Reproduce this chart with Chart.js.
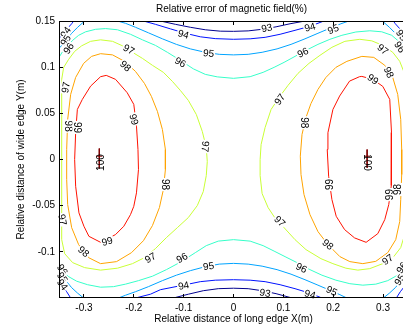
<!DOCTYPE html>
<html>
<head>
<meta charset="utf-8">
<script src="https://cdn.jsdelivr.net/npm/chart.js@4.4.1/dist/chart.umd.min.js"></script>
<style>
html,body{margin:0;padding:0;background:#fff;overflow:hidden;}
#wrap{position:relative;width:416px;height:328px;}
</style>
</head>
<body>
<div id="wrap"><canvas id="c"></canvas></div>
<script>
// axes
const xTickVals = [-0.3,-0.2,-0.1,0,0.1,0.2,0.3];
const xTickLabels = ['-0.3','-0.2','-0.1','0','0.1','0.2','0.3'];
const yTickVals = [-0.1,-0.05,0,0.05,0.1,0.15];
const yTickLabels = ['-0.1','-0.05','0','0.05','0.1','0.15'];
const titleText = 'Relative error of magnetic field(%)';
const xTitle = 'Relative distance of long edge X(m)';
const yTitle = 'Relative distance of wide edge Y(m)';

// contour lines, [x, y] in metres
const lv93Top = [[-0.1466,0.15],[-0.1166,0.1464],[-0.0866,0.1432],[-0.0566,0.1405],[-0.0266,0.139],[0,0.1388],[0.0294,0.1393],[0.0574,0.141],[0.0854,0.1437],[0.1134,0.147],[0.1434,0.15]];
const lv93Bot = [[-0.1206,-0.15],[-0.0906,-0.1459],[-0.0606,-0.1421],[-0.0306,-0.1399],[0,-0.1394],[0.0294,-0.1399],[0.0574,-0.1421],[0.0854,-0.1453],[0.1174,-0.15]];

const lv94Top = [[-0.1806,0.15],[-0.1566,0.1464],[-0.1266,0.1415],[-0.0966,0.1367],[-0.0666,0.1329],[-0.0366,0.1309],[0,0.1302],[0.0334,0.1307],[0.0634,0.1323],[0.0934,0.1356],[0.1234,0.1399],[0.1534,0.1443],[0.1814,0.15]];
const lv94Bot = [[-0.1966,-0.15],[-0.1666,-0.1459],[-0.1466,-0.141],[-0.1006,-0.1361],[-0.0666,-0.1323],[-0.0366,-0.1307],[0,-0.1302],[0.0334,-0.1307],[0.0634,-0.1323],[0.0934,-0.1356],[0.1234,-0.1399],[0.1534,-0.1448],[0.1774,-0.15]];
const lv94TL = [[-0.35,0.1312],[-0.3426,0.1356],[-0.3346,0.141],[-0.3246,0.147],[-0.3206,0.15]];
const lv94TR = [[0.35,0.1312],[0.3426,0.1356],[0.3346,0.141],[0.3246,0.147],[0.3206,0.15]];
const lv94BL = [[-0.35,-0.1334],[-0.3426,-0.1377],[-0.3346,-0.1432],[-0.3266,-0.15]];
const lv94BR = [[0.35,-0.1334],[0.3426,-0.1377],[0.3346,-0.1432],[0.3266,-0.15]];

const lv95Top = [[-0.2326,0.15],[-0.2166,0.1475],[-0.1966,0.1432],[-0.1706,0.1372],[-0.1426,0.1307],[-0.1146,0.1247],[-0.0866,0.1198],[-0.0566,0.1161],[-0.0286,0.1139],[0,0.1133],[0.0294,0.1139],[0.0574,0.1161],[0.0874,0.1198],[0.1154,0.1247],[0.1434,0.1307],[0.1694,0.1367],[0.1954,0.1426],[0.2154,0.147],[0.2314,0.15]];
const lv95Bot = [[-0.2306,-0.15],[-0.2166,-0.147],[-0.1966,-0.1432],[-0.1706,-0.1377],[-0.1426,-0.1312],[-0.1146,-0.1253],[-0.0866,-0.1204],[-0.0566,-0.1161],[-0.0286,-0.1133],[0,-0.1125],[0.0294,-0.1133],[0.0574,-0.1155],[0.0874,-0.1193],[0.1154,-0.1242],[0.1434,-0.1302],[0.1694,-0.1361],[0.1954,-0.1421],[0.2134,-0.1464],[0.2274,-0.15]];
const lv95TL = [[-0.35,0.1204],[-0.3426,0.1247],[-0.3346,0.1302],[-0.3246,0.1367],[-0.3126,0.1432],[-0.2986,0.15]];
const lv95TR = [[0.35,0.1204],[0.3426,0.1247],[0.3346,0.1302],[0.3246,0.1367],[0.3126,0.1432],[0.2986,0.15]];
const lv95BL = [[-0.35,-0.1226],[-0.3426,-0.1269],[-0.3346,-0.1323],[-0.3246,-0.1388],[-0.3126,-0.1448],[-0.3006,-0.15]];
const lv95BR = [[0.35,-0.1226],[0.3426,-0.1269],[0.3346,-0.1323],[0.3246,-0.1388],[0.3126,-0.1448],[0.3006,-0.15]];

const lv96Top = [[-0.35,0.1106],[-0.3426,0.1171],[-0.3326,0.1231],[-0.3226,0.1291],[-0.3106,0.1345],[-0.2966,0.1383],[-0.2766,0.141],[-0.2566,0.1418],[-0.2326,0.1405],[-0.2066,0.1356],[-0.1826,0.1296],[-0.1566,0.1236],[-0.1326,0.1161],[-0.1066,0.1074],[-0.0806,0.0982],[-0.0566,0.0922],[-0.0326,0.0895],[0,0.0879],[0.0334,0.0897],[0.0594,0.0944],[0.0814,0.0998],[0.1014,0.1052],[0.1234,0.1117],[0.1454,0.1182],[0.1694,0.1247],[0.1934,0.1302],[0.2174,0.1345],[0.2454,0.1381],[0.2734,0.1394],[0.2974,0.1383],[0.3174,0.1345],[0.3314,0.128],[0.3414,0.1204],[0.35,0.1128]];
const lv96Bot = [[-0.35,-0.115],[-0.3426,-0.1215],[-0.3306,-0.1269],[-0.3146,-0.1318],[-0.2926,-0.1356],[-0.2666,-0.1383],[-0.2406,-0.1377],[-0.2166,-0.135],[-0.1906,-0.1312],[-0.1626,-0.1264],[-0.1346,-0.1193],[-0.1046,-0.1106],[-0.0766,-0.1009],[-0.0546,-0.0933],[-0.0306,-0.0884],[0,-0.0868],[0.0334,-0.0884],[0.0594,-0.0933],[0.0814,-0.0992],[0.1034,-0.1052],[0.1274,-0.1117],[0.1534,-0.1193],[0.1774,-0.1253],[0.2054,-0.1307],[0.2334,-0.1345],[0.2594,-0.1361],[0.2854,-0.135],[0.3094,-0.1312],[0.3274,-0.1258],[0.3414,-0.1193],[0.35,-0.1117]];

const lv97L = [[-0.3446,0.0868],[-0.3406,0.0998],[-0.3306,0.1085],[-0.3186,0.1171],[-0.3046,0.1231],[-0.2866,0.128],[-0.2666,0.1296],[-0.2426,0.128],[-0.2226,0.1231],[-0.2026,0.1161],[-0.1826,0.1095],[-0.1626,0.102],[-0.1406,0.0944],[-0.1226,0.0846],[-0.1066,0.0748],[-0.0906,0.064],[-0.0746,0.0488],[-0.0626,0.0304],[-0.0546,0.013],[-0.0526,-0.0022],[-0.0546,-0.0174],[-0.0606,-0.0347],[-0.0726,-0.0499],[-0.0906,-0.0629],[-0.1126,-0.0738],[-0.1346,-0.0846],[-0.1566,-0.0965],[-0.1786,-0.1063],[-0.2026,-0.1128],[-0.2326,-0.1177],[-0.2666,-0.1198],[-0.2986,-0.1171],[-0.3226,-0.1117],[-0.3386,-0.102],[-0.3446,-0.0868],[-0.3446,-0.0434],[-0.3446,0],[-0.3446,0.0434],[-0.3446,0.0868]];
const lv97R = [[0.2534,0.1302],[0.2774,0.1285],[0.2994,0.1236],[0.3194,0.1161],[0.3334,0.1063],[0.3414,0.0954],[0.3444,0.0813],[0.3454,0.0434],[0.3454,0],[0.3454,-0.0434],[0.3434,-0.0813],[0.3354,-0.0954],[0.3214,-0.1052],[0.2994,-0.1128],[0.2734,-0.1182],[0.2494,-0.1198],[0.2254,-0.1177],[0.1994,-0.1128],[0.1754,-0.1074],[0.1454,-0.0976],[0.1234,-0.0868],[0.1014,-0.0738],[0.0854,-0.0651],[0.0694,-0.0521],[0.0574,-0.0369],[0.0534,-0.0174],[0.0534,0],[0.0554,0.0163],[0.0634,0.0347],[0.0754,0.0542],[0.0914,0.0672],[0.1094,0.0803],[0.1294,0.0933],[0.1514,0.1041],[0.1734,0.1128],[0.1974,0.1215],[0.2234,0.128],[0.2534,0.1302]];

const lv98L = [[-0.2666,0.1146],[-0.2426,0.1133],[-0.2186,0.1063],[-0.1966,0.0954],[-0.1786,0.0824],[-0.1646,0.0683],[-0.1526,0.0521],[-0.1426,0.0325],[-0.1366,0.0108],[-0.1366,-0.0108],[-0.1406,-0.0325],[-0.1486,-0.0521],[-0.1626,-0.0716],[-0.1806,-0.0879],[-0.2046,-0.1009],[-0.2346,-0.1106],[-0.2666,-0.1128],[-0.2906,-0.1063],[-0.3106,-0.0922],[-0.3246,-0.0738],[-0.3326,-0.0488],[-0.3346,-0.0217],[-0.3346,0.0108],[-0.3326,0.0434],[-0.3266,0.0705],[-0.3166,0.0889],[-0.3006,0.1041],[-0.2846,0.1117],[-0.2666,0.1146]];
const lv98R = [[0.2574,0.1117],[0.2814,0.1106],[0.3034,0.102],[0.3194,0.0889],[0.3294,0.0705],[0.3354,0.0434],[0.3374,0.0108],[0.3374,-0.0163],[0.3354,-0.0434],[0.3334,-0.0672],[0.3254,-0.0868],[0.3094,-0.1009],[0.2854,-0.1103],[0.2594,-0.1128],[0.2334,-0.1106],[0.2134,-0.1052],[0.1894,-0.0922],[0.1694,-0.0781],[0.1534,-0.0597],[0.1414,-0.038],[0.1354,-0.0163],[0.134,0.0036],[0.1374,0.0271],[0.1454,0.0456],[0.1554,0.0607],[0.1694,0.0759],[0.1854,0.0889],[0.2054,0.0998],[0.2274,0.1063],[0.2574,0.1117]];

const lv99L = [[-0.2552,0.0911],[-0.2366,0.0868],[-0.2132,0.0723],[-0.2,0.0597],[-0.1946,0.0361],[-0.1916,0.0108],[-0.1906,-0.0108],[-0.1946,-0.0361],[-0.2,-0.0507],[-0.2066,-0.0597],[-0.22,-0.0723],[-0.2366,-0.0813],[-0.2666,-0.0897],[-0.29,-0.0832],[-0.3,-0.0723],[-0.31,-0.0578],[-0.3166,-0.029],[-0.3186,0],[-0.3166,0.029],[-0.3132,0.0542],[-0.3032,0.0651],[-0.2866,0.0795],[-0.2666,0.0897],[-0.2552,0.0911]];
const lv99R = [[0.2574,0.09],[0.2794,0.0868],[0.2994,0.0792],[0.3134,0.0651],[0.3169,0.0293],[0.3169,0],[0.3162,-0.0282],[0.3114,-0.0488],[0.3034,-0.0651],[0.2894,-0.0803],[0.266,-0.0897],[0.2428,-0.0849],[0.2228,-0.0759],[0.206,-0.0615],[0.1974,-0.0434],[0.1908,-0.0181],[0.188,0.0108],[0.1894,0.029],[0.1994,0.0542],[0.2128,0.0687],[0.2328,0.0849],[0.2528,0.0897],[0.2574,0.09]];

const lv100Lv = [[-0.2692,0.0119],[-0.2692,-0.0098]];
const lv100Lh = [[-0.2755,0.0036],[-0.263,0.0036]];
const lv100Rv = [[0.268,0.0108],[0.268,-0.009]];
const lv100Rh = [[0.2626,0.0036],[0.2738,0.0036]];

// contour labels: text, x, y, angle (deg)
const clabels = [
  ['94',-0.1006,0.1356,15],['93',0.0668,0.1424,-10],['94',0.1534,0.1432,-15],['95',0.2,0.141,-22],
  ['95',-0.05,0.115,6],['96',-0.1066,0.1052,28],['96',0.1394,0.1157,-25],
  ['97',-0.21,0.1193,30],['97',0.2994,0.1193,38],['98',-0.2166,0.1012,42],['98',0.3114,0.0944,65],
  ['99',0.2794,0.0868,35],['97',0.0928,0.0651,-55],['97',-0.0566,0.0141,95],
  ['94',-0.3366,0.1378,-55],['95',-0.3366,0.1291,-55],['96',-0.3306,0.1204,-55],
  ['97',-0.3366,0.0781,-80],['98',-0.3306,0.0361,90],['99',-0.3132,0.0347,90],['99',-0.2,0.0434,75],
  ['100',-0.2666,-0.0033,-90],['98',-0.1366,-0.0271,90],['98',0.1428,0.0398,90],['99',0.1928,-0.0271,-90],
  ['100',0.268,-0.0033,90],['99',0.3128,-0.038,-90],['98',0.3294,-0.0325,-90],
  ['97',-0.3432,-0.0651,80],['99',-0.2532,-0.0886,-15],['98',-0.3006,-0.0998,40],
  ['97',-0.1666,-0.1066,-30],['96',-0.1032,-0.1066,-30],['95',-0.05,-0.1157,-8],['94',-0.1,-0.1367,-12],
  ['93',0.0634,-0.1446,10],['94',0.1534,-0.1461,15],['95',0.1968,-0.1424,25],['96',0.136,-0.1175,25],
  ['98',0.1894,-0.0922,40],['97',0.0928,-0.0669,45],['97',0.3094,-0.1085,-35],
  ['96',-0.3432,-0.1193,55],['95',-0.3432,-0.128,55],['94',-0.3432,-0.1356,55],
  ['95',0.3368,0.1345,55],['96',0.3334,0.1218,55],['95',0.3334,-0.1302,-55],['96',0.3374,-0.1172,-55]
];

const contourSets = [
  [93,lv93Top],[93,lv93Bot],
  [94,lv94Top],[94,lv94Bot],[94,lv94TL],[94,lv94TR],[94,lv94BL],[94,lv94BR],
  [95,lv95Top],[95,lv95Bot],[95,lv95TL],[95,lv95TR],[95,lv95BL],[95,lv95BR],
  [96,lv96Top],[96,lv96Bot],
  [97,lv97L],[97,lv97R],
  [98,lv98L],[98,lv98R],
  [99,lv99L],[99,lv99R],
  [100,lv100Lv],[100,lv100Lh],[100,lv100Rv],[100,lv100Rh]
];

const LEVEL_COLOR = {93:'#00008f',94:'#0012ff',95:'#00a4ff',96:'#36ffc9',97:'#c9ff36',98:'#ffa400',99:'#ff1200',100:'#800000'};
const FONT = '"Liberation Sans", Arial, Helvetica, sans-serif';

const datasets = contourSets.map(function(c){
  return {
    label: String(c[0]),
    data: c[1].map(function(p){ return {x:p[0], y:p[1]}; }),
    showLine: true,
    borderColor: LEVEL_COLOR[c[0]],
    borderWidth: 1,
    pointRadius: 0,
    pointHoverRadius: 0,
    fill: false,
    tension: 0
  };
});

const decor = {
  id: 'decor',
  afterDatasetsDraw: function(chart){
    const ctx = chart.ctx, sx = chart.scales.x, sy = chart.scales.y;
    ctx.save();
    ctx.font = '10px ' + FONT;
    ctx.textAlign = 'center';
    ctx.textBaseline = 'middle';
    clabels.forEach(function(l){
      const px = sx.getPixelForValue(l[1]), py = sy.getPixelForValue(l[2]);
      ctx.save();
      ctx.translate(px, py);
      ctx.rotate(l[3]*Math.PI/180);
      const w = ctx.measureText(l[0]).width;
      if(l[0] !== '100'){ ctx.fillStyle = '#fff'; ctx.fillRect(-w/2-1, -5, w+2, 10); }
      ctx.fillStyle = '#000';
      ctx.fillText(l[0], 0, 0.5);
      ctx.restore();
    });
    ctx.restore();
  },
  afterDraw: function(chart){
    const ctx = chart.ctx, a = chart.chartArea, sx = chart.scales.x, sy = chart.scales.y;
    ctx.save();
    ctx.strokeStyle = '#000';
    ctx.lineWidth = 1;
    ctx.strokeRect(a.left+0.5, a.top+0.5, a.right-a.left-1, a.bottom-a.top-1);
    const tl = 4;
    ctx.beginPath();
    xTickVals.forEach(function(v){
      const p = Math.round(sx.getPixelForValue(v)-0.5)+0.5;
      ctx.moveTo(p, a.bottom); ctx.lineTo(p, a.bottom-tl);
      ctx.moveTo(p, a.top); ctx.lineTo(p, a.top+tl);
    });
    yTickVals.forEach(function(v){
      const p = Math.round(sy.getPixelForValue(v)-0.5)+0.5;
      ctx.moveTo(a.left, p); ctx.lineTo(a.left+tl, p);
      ctx.moveTo(a.right, p); ctx.lineTo(a.right-tl, p);
    });
    ctx.stroke();
    ctx.fillStyle = '#000';
    ctx.font = '10px ' + FONT;
    ctx.textAlign = 'center';
    ctx.textBaseline = 'middle';
    const cx = (a.left + a.right)/2;
    ctx.fillText(titleText, cx - 2, 9);
    ctx.fillText(xTitle, cx, 319);
    ctx.translate(21, (a.top + a.bottom)/2);
    ctx.rotate(-Math.PI/2);
    ctx.fillText(yTitle, 0, 0);
    ctx.restore();
  }
};

new Chart(document.getElementById('c'), {
  type: 'scatter',
  data: { datasets: datasets },
  options: {
    responsive: true,
    maintainAspectRatio: false,
    animation: false,
    events: [],
    layout: { padding: { top: 21, right: 8, left: 0, bottom: 0 } },
    plugins: { legend: { display: false }, tooltip: { enabled: false }, title: { display: false } },
    scales: {
      x: {
        type: 'linear', min: -0.35, max: 0.35,
        grid: { display: false, drawTicks: false },
        border: { display: false },
        ticks: { padding: 4, color: '#000', font: { family: FONT, size: 10 },
          callback: function(v){ const i = xTickVals.indexOf(v); return i < 0 ? '' : xTickLabels[i]; } },
        afterBuildTicks: function(s){ s.ticks = xTickVals.map(function(v){ return {value: v}; }); },
        afterFit: function(s){ s.height = 30; }
      },
      y: {
        type: 'linear', min: -0.15, max: 0.15,
        grid: { display: false, drawTicks: false },
        border: { display: false },
        ticks: { padding: 4, color: '#000', font: { family: FONT, size: 10 },
          callback: function(v){ const i = yTickVals.indexOf(v); return i < 0 ? '' : yTickLabels[i]; } },
        afterBuildTicks: function(s){ s.ticks = yTickVals.map(function(v){ return {value: v}; }); },
        afterFit: function(s){ s.width = 59; }
      }
    }
  },
  plugins: [decor]
});
</script>
</body>
</html>
